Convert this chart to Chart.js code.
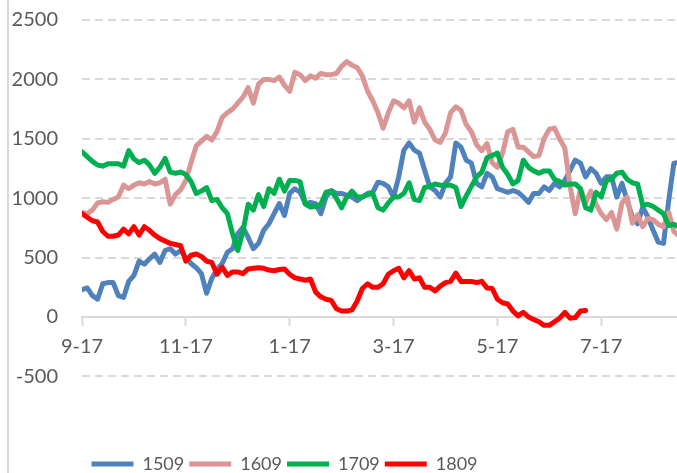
<!DOCTYPE html>
<html>
<head>
<meta charset="utf-8">
<script src="https://cdn.jsdelivr.net/npm/chart.js@4"></script>
<style>
html, body { margin: 0; padding: 0; background: #fff; }
</style>
</head>
<body>
<canvas id="myChart" width="677" height="473"></canvas>
<script>
/* series names and colours */
const seriesNames = ['1509', '1609', '1709', '1809'];
const seriesColors = ['#4f81bd', '#d99694', '#00b050', '#ff0000'];

/* x axis: months since 9-17, one reading every 0.1 month */
const stepMonths = 0.1;
const monthTicks = [0, 2, 4, 6, 8, 10];
const monthLabels = ['9-17', '11-17', '1-17', '3-17', '5-17', '7-17'];
const yTicks = [-500, 0, 500, 1000, 1500, 2000, 2500];

const s1509 = [230, 245, 180, 150, 280, 290, 290, 180, 165, 300,
    350, 470, 445, 490, 530, 460, 560, 575, 530, 560,
    500, 450, 415, 365, 200, 325, 400, 450, 545, 575,
    700, 755, 670, 575, 620, 730, 785, 870, 955, 855,
    1040, 1080, 1050, 955, 965, 955, 870, 1010, 1065, 1040,
    1040, 1025, 1010, 980, 1010, 1040, 1050, 1135, 1125, 1095,
    1010, 1180, 1405, 1465, 1405, 1380, 1235, 1095, 1065, 1010,
    1125, 1180, 1465, 1430, 1320, 1295, 1125, 1095, 1210, 1180,
    1080, 1065, 1050, 1065, 1050, 1010, 965, 1040, 1040, 1095,
    1065, 1125, 1095, 1150, 1235, 1320, 1295, 1180, 1250, 1210,
    1125, 1180, 1180, 1010, 1125, 980, 840, 785, 925, 840,
    730, 630, 620, 980, 1295, 1300];

const s1609 = [880, 870, 900, 960, 970, 965, 990, 1010, 1110, 1080,
    1110, 1130, 1120, 1140, 1120, 1130, 1160, 950, 1030, 1070,
    1150, 1300, 1440, 1480, 1520, 1490, 1560, 1680, 1720, 1750,
    1800, 1850, 1930, 1800, 1960, 2000, 2000, 1990, 2020, 1950,
    1900, 2060, 2040, 1990, 2030, 2010, 2050, 2040, 2040, 2050,
    2110, 2150, 2120, 2100, 2030, 1900, 1820, 1720, 1590, 1720,
    1820, 1800, 1760, 1820, 1640, 1760, 1640, 1580, 1490, 1470,
    1550, 1720, 1770, 1740, 1620, 1560, 1450, 1400, 1460, 1300,
    1260, 1380, 1560, 1580, 1430, 1430, 1390, 1350, 1360, 1500,
    1580, 1590, 1500, 1420, 1100, 870, 1080, 960, 1060, 950,
    870, 820, 880, 740, 960, 1010, 790, 860, 760, 830,
    820, 780, 760, 880, 720, 680];

const s1709 = [1390, 1350, 1310, 1280, 1270, 1290, 1290, 1290, 1270, 1400,
    1330, 1300, 1320, 1280, 1210, 1260, 1335, 1220, 1210, 1220,
    1200, 1140, 1040, 1060, 1090, 980, 990, 920, 870, 700,
    560, 720, 950, 900, 1030, 930, 1080, 1040, 1160, 1060,
    1150, 1150, 1140, 950, 925, 930, 950, 1050, 1060, 1000,
    920, 1010, 1060, 1010, 1010, 1030, 1040, 920, 900, 960,
    1010, 1010, 1040, 1130, 990, 980, 1090, 1100, 1120, 1110,
    1110, 1110, 1090, 930, 1020, 1100, 1180, 1220, 1340, 1360,
    1380, 1260, 1200, 1120, 1150, 1320, 1260, 1230, 1210, 1230,
    1230, 1160, 1140, 1110, 1120, 1120, 1080, 920, 900, 1050,
    1010, 1150, 1160, 1210, 1220, 1160, 1130, 1120, 940, 950,
    930, 900, 870, 770, 780, 760];

const s1809 = [870, 840, 810, 800, 720, 680, 680, 690, 740, 700,
    760, 690, 760, 730, 690, 660, 640, 620, 610, 600,
    470, 520, 530, 510, 470, 460, 360, 420, 350, 380,
    380, 365, 405, 410, 415, 410, 395, 390, 400, 405,
    360, 330, 320, 310, 320, 210, 170, 150, 140, 70,
    50, 50, 60, 135, 240, 280, 250, 250, 280, 360,
    390, 410, 330, 390, 320, 330, 250, 250, 220, 260,
    290, 300, 370, 300, 300, 300, 290, 300, 245, 240,
    150, 120, 110, 50, 10, 40, 0, -20, -40, -70,
    -70, -40, -10, 40, -10, -5, 50, 55];

const allSeries = [s1509, s1609, s1709, s1809];

const ctx = document.getElementById('myChart');

/* thin grey frame line on the left, like the Excel chart border */
const leftFrame = {
    id: 'leftFrame',
    beforeDraw(chart) {
        const c = chart.ctx;
        c.save();
        c.strokeStyle = '#d9d9d9';
        c.lineWidth = 2;
        c.beginPath();
        c.moveTo(8, 0);
        c.lineTo(8, chart.height);
        c.stroke();
        c.restore();
    }
};

/* the original legend sits a bit left of centre and low in the frame */
const legendShift = {
    id: 'legendShift',
    afterLayout(chart) {
        const lg = chart.legend;
        lg.left -= 54;
        lg.right -= 54;
        lg.top += 10;
        lg.bottom += 10;
    }
};

const datasets = allSeries.map((values, k) => ({
    label: seriesNames[k],
    data: values.map((v, i) => ({ x: i * stepMonths, y: v })),
    borderColor: seriesColors[k],
    backgroundColor: seriesColors[k],
    borderWidth: 5,
    borderCapStyle: 'round',
    borderJoinStyle: 'round',
    pointRadius: 0,
    pointStyle: 'line',
    tension: 0,
    order: 4 - k
}));

const tickFont = { family: 'Lato', size: 20 };

new Chart(ctx, {
    type: 'line',
    data: { datasets: datasets },
    options: {
        responsive: false,
        animation: false,
        events: [],
        layout: { padding: { top: 20, left: 0, right: 0, bottom: 0 } },
        scales: {
            x: {
                type: 'linear',
                min: 0,
                max: 11.46,
                position: { y: 0 },
                afterBuildTicks: (scale) => {
                    scale.ticks = monthTicks.map(v => ({ value: v }));
                },
                grid: {
                    drawOnChartArea: false,
                    drawTicks: true,
                    tickLength: 8,
                    tickColor: '#d9d9d9',
                    tickWidth: 2
                },
                border: { color: '#d9d9d9', width: 2 },
                ticks: {
                    padding: 10,
                    maxRotation: 0,
                    autoSkip: false,
                    color: '#595959',
                    font: tickFont,
                    callback: (value) => monthLabels[monthTicks.indexOf(value)]
                }
            },
            y: {
                min: -1035,
                max: 2500,
                afterBuildTicks: (scale) => {
                    scale.ticks = yTicks.map(v => ({ value: v }));
                },
                afterFit: (scale) => { scale.width = 82; },
                grid: {
                    color: '#d9d9d9',
                    lineWidth: 2,
                    drawTicks: true,
                    tickLength: 22,
                    tickColor: 'rgba(0,0,0,0)'
                },
                border: { display: false, dash: [8, 5] },
                ticks: {
                    padding: 2,
                    color: '#595959',
                    font: tickFont,
                    callback: (value) => String(value)
                }
            }
        },
        plugins: {
            legend: {
                position: 'bottom',
                labels: {
                    usePointStyle: true,
                    pointStyle: 'line',
                    pointStyleWidth: 42,
                    padding: 5,
                    color: '#595959',
                    font: { family: 'Lato', size: 18 },
                    sort: (a, b) => a.datasetIndex - b.datasetIndex
                }
            },
            tooltip: { enabled: false }
        }
    },
    plugins: [leftFrame, legendShift]
});
</script>
</body>
</html>
